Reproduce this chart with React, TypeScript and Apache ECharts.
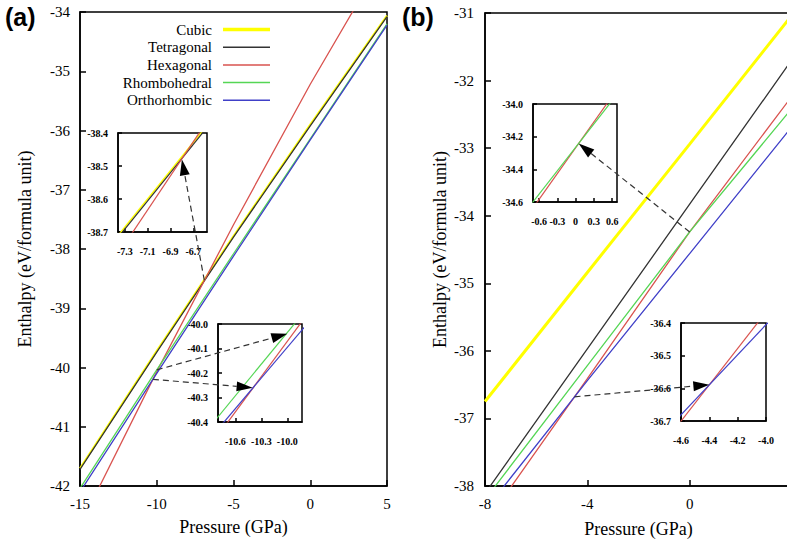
import React, { useEffect, useRef } from "react";
import * as echarts from "echarts";

// ---------- data ----------
const seriesNames = ["Cubic", "Tetragonal", "Hexagonal", "Rhombohedral", "Orthorhombic"];
const seriesColors = ["#ffff00", "#333333", "#d9534f", "#55d655", "#4040c8"];

// Panel (a) main
const pressureA = [-15, -10, -5, 0, 5];
const cubicA = [-41.7, -39.72, -37.78, -35.9, -34.06];
const tetragonalA = [-41.72, -39.74, -37.8, -35.92, -34.08];
const hexagonalA = [-42.67, -40.07, -37.59, -35.22, -33.0];
const rhombohedralA = [-42.04, -40.04, -38.08, -36.14, -34.2];
const orthorhombicA = [-42.1, -40.1, -38.12, -36.16, -34.22];

// Panel (a) inset 1
const pressureA1 = [-7.4, -6.5];
const cubicA1 = [-38.728, -38.343];
const tetragonalA1 = [-38.734, -38.349];
const hexagonalA1 = [-38.788, -38.323];
const ticksA1x = [-7.3, -7.1, -6.9, -6.7];
const ticksA1y = [-38.7, -38.6, -38.5, -38.4];

// Panel (a) inset 2
const pressureA2 = [-10.9, -9.7];
const hexagonalA2 = [-40.503, -39.927];
const rhombohedralA2 = [-40.422, -39.906];
const orthorhombicA2 = [-40.471, -39.97];
const ticksA2x = [-10.6, -10.3, -10.0];
const ticksA2y = [-40.4, -40.3, -40.2, -40.1, -40.0];

// Panel (b) main
const pressureB = [-8, -4, 0, 4];
const cubicB = [-36.75, -34.84, -32.94, -31.03];
const tetragonalB = [-38.11, -35.97, -33.83, -31.69];
const hexagonalB = [-38.56, -36.41, -34.24, -32.23];
const rhombohedralB = [-38.2, -36.22, -34.24, -32.41];
const orthorhombicB = [-38.36, -36.44, -34.56, -32.68];

// Panel (b) upper inset
const pressureB1 = [-0.8, 0.8];
const hexagonalB1 = [-34.689, -33.847];
const rhombohedralB1 = [-34.647, -33.884];
const ticksB1x = [-0.6, -0.3, 0, 0.3, 0.6];
const ticksB1y = [-34.6, -34.4, -34.2, -34.0];

// Panel (b) lower inset
const pressureB2 = [-4.7, -3.9];
const hexagonalB2 = [-36.756, -36.311];
const orthorhombicB2 = [-36.727, -36.359];
const ticksB2x = [-4.6, -4.4, -4.2, -4.0];
const ticksB2y = [-36.7, -36.6, -36.5, -36.4];

// Arrows: [fromGrid, fromX, fromY, toGrid, toX, toY]
const arrows = [
  [0, -6.9, -38.53, 1, -6.8, -38.48],
  [0, -10.0, -40.04, 2, -10.0, -40.04],
  [0, -10.25, -40.2, 2, -10.4, -40.26],
  [3, 0, -34.24, 4, 0.05, -34.242],
  [3, -4.5, -36.68, 5, -4.4, -36.589],
];

const SERIF = "Liberation Serif, Times New Roman, serif";

function mk(xs: number[], ys: number[]) {
  return xs.map((x, i) => [x, ys[i]]);
}

export default function App() {
  const ref = useRef<HTMLDivElement>(null);
  useEffect(() => {
    if (!ref.current) return;
    const chart = echarts.init(ref.current, undefined, { renderer: "svg" });

    const grids = [
      { left: 80, top: 12, width: 307, height: 474 },
      { left: 118, top: 133, width: 89, height: 99 },
      { left: 218, top: 324, width: 84, height: 98 },
      { left: 485, top: 13, width: 307, height: 473 },
      { left: 533, top: 104, width: 84, height: 98 },
      { left: 681, top: 323, width: 85, height: 98 },
    ].map((g, i) => ({
      ...g,
      show: true,
      borderColor: "#000",
      borderWidth: 1.5,
      backgroundColor: i === 0 || i === 3 ? "transparent" : "#fff",
      containLabel: false,
      outerBoundsMode: "none",
    }));

    const mainAxisLabel = { color: "#000", fontFamily: SERIF, fontSize: 15 };
    const insetLabel = (fmt: (v: number) => string, values: number[], margin: number) => ({
      color: "#000",
      fontFamily: SERIF,
      fontSize: 10,
      fontWeight: "bold",
      margin,
      customValues: values,
      formatter: (v: number) => fmt(v),
    });
    const fx1 = (v: number) => v.toFixed(1);
    const fxPlain = (v: number) => (Math.abs(v) < 1e-9 ? "0" : v.toFixed(1));

    const axisLine = { show: true, onZero: false, lineStyle: { color: "#000", width: 1.5 } };
    const mainTick = { show: true, inside: true, length: 6, lineStyle: { color: "#000", width: 1.5 } };
    const insetTick = (vals: number[]) => ({
      show: true,
      inside: true,
      length: 4,
      customValues: vals,
      lineStyle: { color: "#000", width: 1.5 },
    });
    const nameStyle = { color: "#000", fontFamily: SERIF, fontSize: 18 };

    const xAxis: any[] = [
      {
        type: "value", gridIndex: 0, min: -15, max: 5, interval: 5,
        axisLine, axisTick: mainTick, splitLine: { show: false },
        axisLabel: { ...mainAxisLabel, margin: 10 },
        name: "Pressure (GPa)", nameLocation: "middle", nameGap: 32, nameTextStyle: nameStyle,
      },
      {
        type: "value", gridIndex: 1, min: -7.36, max: -6.58,
        axisLine, axisTick: insetTick(ticksA1x), splitLine: { show: false },
        axisLabel: insetLabel(fx1, ticksA1x, 14),
      },
      {
        type: "value", gridIndex: 2, min: -10.8, max: -9.83,
        axisLine, axisTick: insetTick(ticksA2x), splitLine: { show: false },
        axisLabel: insetLabel(fx1, ticksA2x, 14),
      },
      {
        type: "value", gridIndex: 3, min: -8, max: 4, interval: 4,
        axisLine, axisTick: mainTick, splitLine: { show: false },
        axisLabel: { ...mainAxisLabel, margin: 10, showMaxLabel: false },
        name: "Pressure (GPa)", nameLocation: "middle", nameGap: 34, nameTextStyle: nameStyle,
      },
      {
        type: "value", gridIndex: 4, min: -0.7, max: 0.68,
        axisLine, axisTick: insetTick(ticksB1x), splitLine: { show: false },
        axisLabel: insetLabel(fxPlain, ticksB1x, 14),
      },
      {
        type: "value", gridIndex: 5, min: -4.6, max: -4.0,
        axisLine, axisTick: insetTick(ticksB2x), splitLine: { show: false },
        axisLabel: insetLabel(fx1, ticksB2x, 14),
      },
    ];

    const yAxis: any[] = [
      {
        type: "value", gridIndex: 0, min: -42, max: -34, interval: 1,
        axisLine, axisTick: mainTick, splitLine: { show: false },
        axisLabel: { ...mainAxisLabel, margin: 10 },
        name: "Enthalpy (eV/formula unit)", nameLocation: "middle", nameGap: 46, nameTextStyle: nameStyle,
      },
      {
        type: "value", gridIndex: 1, min: -38.7, max: -38.4,
        axisLine, axisTick: insetTick(ticksA1y), splitLine: { show: false },
        axisLabel: insetLabel(fx1, ticksA1y, 10),
      },
      {
        type: "value", gridIndex: 2, min: -40.4, max: -40.0,
        axisLine, axisTick: insetTick(ticksA2y), splitLine: { show: false },
        axisLabel: insetLabel(fx1, ticksA2y, 10),
      },
      {
        type: "value", gridIndex: 3, min: -38, max: -31, interval: 1,
        axisLine, axisTick: mainTick, splitLine: { show: false },
        axisLabel: { ...mainAxisLabel, margin: 11 },
        name: "Enthalpy (eV/formula unit)", nameLocation: "middle", nameGap: 36, nameTextStyle: nameStyle,
      },
      {
        type: "value", gridIndex: 4, min: -34.6, max: -34.0,
        axisLine, axisTick: insetTick(ticksB1y), splitLine: { show: false },
        axisLabel: insetLabel(fx1, ticksB1y, 10),
      },
      {
        type: "value", gridIndex: 5, min: -36.7, max: -36.4,
        axisLine, axisTick: insetTick(ticksB2y), splitLine: { show: false },
        axisLabel: insetLabel(fx1, ticksB2y, 10),
      },
    ];

    const line = (name: string, idx: number, xs: number[], ys: number[], width: number, z = 3) => {
      const ci = seriesNames.indexOf(name);
      return {
        type: "line",
        name,
        xAxisIndex: idx,
        yAxisIndex: idx,
        data: mk(xs, ys),
        symbol: "none",
        showSymbol: false,
        clip: true,
        silent: true,
        z,
        lineStyle: { color: seriesColors[ci], width },
        itemStyle: { color: seriesColors[ci] },
      };
    };

    const series: any[] = [
      line("Cubic", 0, pressureA, cubicA, 2),
      line("Tetragonal", 0, pressureA, tetragonalA, 1.3),
      line("Hexagonal", 0, pressureA, hexagonalA, 1.3),
      line("Rhombohedral", 0, pressureA, rhombohedralA, 1.3),
      line("Orthorhombic", 0, pressureA, orthorhombicA, 1.3),
      line("Cubic", 1, pressureA1, cubicA1, 1.5, 5),
      line("Tetragonal", 1, pressureA1, tetragonalA1, 1.2, 5),
      line("Hexagonal", 1, pressureA1, hexagonalA1, 1.2, 5),
      line("Hexagonal", 2, pressureA2, hexagonalA2, 1.2, 5),
      line("Rhombohedral", 2, pressureA2, rhombohedralA2, 1.2, 5),
      line("Orthorhombic", 2, pressureA2, orthorhombicA2, 1.2, 5),
      line("Cubic", 3, pressureB, cubicB, 3),
      line("Tetragonal", 3, pressureB, tetragonalB, 1.3),
      line("Hexagonal", 3, pressureB, hexagonalB, 1.3),
      line("Rhombohedral", 3, pressureB, rhombohedralB, 1.3),
      line("Orthorhombic", 3, pressureB, orthorhombicB, 1.3),
      line("Hexagonal", 4, pressureB1, hexagonalB1, 1.2, 5),
      line("Rhombohedral", 4, pressureB1, rhombohedralB1, 1.2, 5),
      line("Hexagonal", 5, pressureB2, hexagonalB2, 1.2, 5),
      line("Orthorhombic", 5, pressureB2, orthorhombicB2, 1.2, 5),
    ];

    const SANS = "Liberation Sans, Arial, sans-serif";
    chart.setOption({
      animation: false,
      backgroundColor: "#fff",
      textStyle: { fontFamily: SERIF },
      title: [
        { text: "(a)", left: 5, top: 4, padding: 0, textStyle: { fontFamily: SANS, fontWeight: "bold", fontSize: 25, color: "#000" } },
        { text: "(b)", left: 402, top: 4, padding: 0, textStyle: { fontFamily: SANS, fontWeight: "bold", fontSize: 25, color: "#000" } },
      ],
      legend: {
        orient: "vertical",
        align: "right",
        left: 104,
        top: 22,
        padding: 0,
        itemWidth: 47,
        itemHeight: 14,
        itemGap: 2.7,
        selectedMode: false,
        data: seriesNames.map((n, i) => ({
          name: n,
          itemStyle: { opacity: 0, borderWidth: 0 },
          lineStyle: { width: i === 0 ? 3.5 : 1.5, color: seriesColors[i] },
        })),
        textStyle: { fontFamily: SERIF, fontSize: 15, color: "#000", width: 108, align: "right", lineHeight: 14, padding: [0, 6, 0, 0] },
      },
      grid: grids,
      xAxis,
      yAxis,
      series,
    });

    const graphics: any[] = [];
    arrows.forEach(([g0, x0, y0, g1, x1, y1]) => {
      const p0 = chart.convertToPixel({ gridIndex: g0 } as any, [x0, y0]) as number[];
      const p1 = chart.convertToPixel({ gridIndex: g1 } as any, [x1, y1]) as number[];
      if (!p0 || !p1) return;
      const dx = p1[0] - p0[0];
      const dy = p1[1] - p0[1];
      const len = Math.sqrt(dx * dx + dy * dy);
      const ux = dx / len;
      const uy = dy / len;
      const headLen = 16;
      const headW = 5;
      const bx = p1[0] - ux * headLen;
      const by = p1[1] - uy * headLen;
      graphics.push({
        type: "line",
        z: 100,
        silent: true,
        shape: { x1: p0[0], y1: p0[1], x2: bx, y2: by },
        style: { stroke: "#333", lineWidth: 1.2, lineDash: [6, 4] },
      });
      graphics.push({
        type: "polygon",
        z: 101,
        silent: true,
        shape: {
          points: [
            [p1[0], p1[1]],
            [bx - uy * headW, by + ux * headW],
            [bx + uy * headW, by - ux * headW],
          ],
        },
        style: { fill: "#000" },
      });
    });
    chart.setOption({ graphic: graphics });

    return () => chart.dispose();
  }, []);

  return (
    <div
      ref={ref}
      style={{ position: "fixed", left: 0, top: 0, width: 787, height: 543, background: "#fff" }}
    />
  );
}
